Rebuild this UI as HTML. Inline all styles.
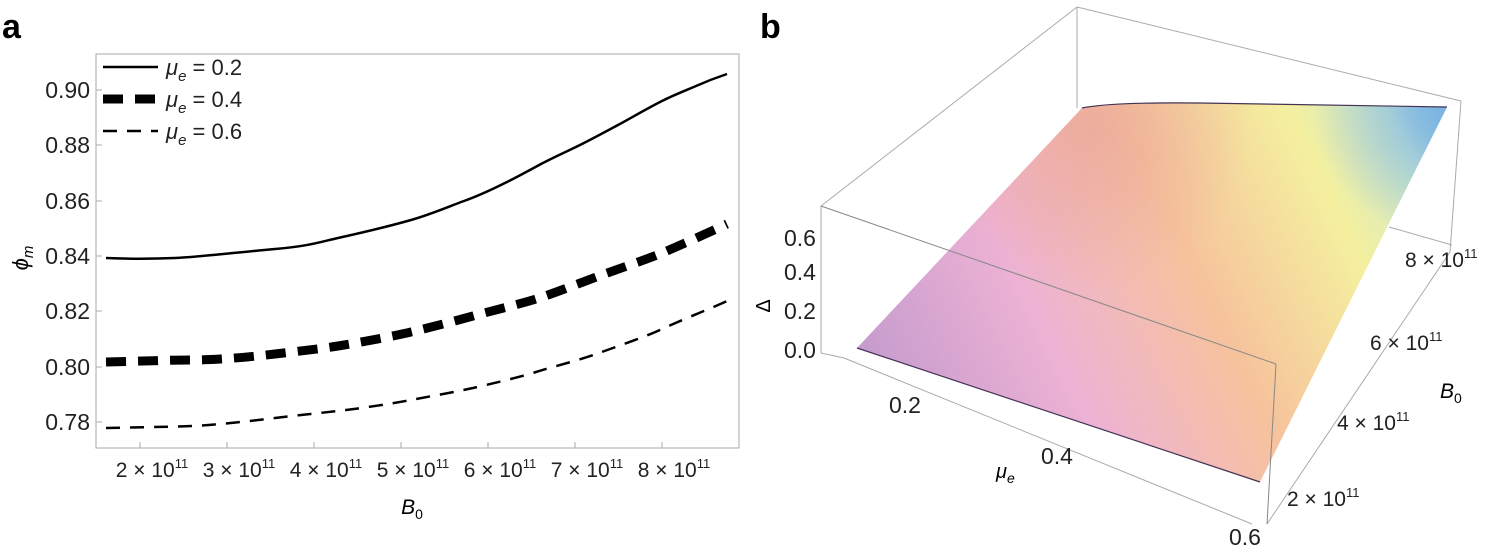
<!DOCTYPE html>
<html><head><meta charset="utf-8"><style>
body{margin:0;background:#fff}
svg{display:block;font-family:"Liberation Sans",sans-serif}
</style></head><body>
<svg width="1505" height="549" viewBox="0 0 1505 549" xmlns="http://www.w3.org/2000/svg">
<defs>
<linearGradient id="g1" x1="857" y1="400" x2="1447" y2="107" gradientUnits="userSpaceOnUse">
<stop offset="0" stop-color="#bf98cc"/>
<stop offset="0.3" stop-color="#edb2d4"/>
<stop offset="0.55" stop-color="#f6c39c"/>
<stop offset="0.78" stop-color="#f4f09e"/>
<stop offset="0.92" stop-color="#cfe8cc"/>
<stop offset="1" stop-color="#7fb6e2"/>
</linearGradient>
<radialGradient id="g2" cx="1445" cy="110" r="130" gradientUnits="userSpaceOnUse">
<stop offset="0" stop-color="#7ab4e4" stop-opacity="0.9"/>
<stop offset="1" stop-color="#7ab4e4" stop-opacity="0"/>
</radialGradient>
<radialGradient id="g3" cx="1090" cy="130" r="160" gradientUnits="userSpaceOnUse">
<stop offset="0" stop-color="#e8a098" stop-opacity="0.6"/>
<stop offset="1" stop-color="#e8a098" stop-opacity="0"/>
</radialGradient>
</defs>
<text x="2" y="38" font-size="34" font-weight="bold">a</text>
<text x="760" y="38" font-size="34" font-weight="bold">b</text>
<!-- Left plot -->
<rect x="96" y="54" width="643" height="394" fill="none" stroke="#aaa" stroke-width="1"/>
<g stroke="#aaa" stroke-width="1">
<line x1="96" y1="90" x2="102" y2="90"/><line x1="96" y1="145" x2="102" y2="145"/><line x1="96" y1="201" x2="102" y2="201"/><line x1="96" y1="256" x2="102" y2="256"/><line x1="96" y1="311" x2="102" y2="311"/><line x1="96" y1="367" x2="102" y2="367"/><line x1="96" y1="422" x2="102" y2="422"/>
<line x1="140" y1="448" x2="140" y2="442"/><line x1="227" y1="448" x2="227" y2="442"/><line x1="314" y1="448" x2="314" y2="442"/><line x1="401" y1="448" x2="401" y2="442"/><line x1="488" y1="448" x2="488" y2="442"/><line x1="575" y1="448" x2="575" y2="442"/><line x1="662" y1="448" x2="662" y2="442"/>
</g>
<g font-size="23" text-anchor="end" fill="#222">
<text x="90" y="98">0.90</text><text x="90" y="153">0.88</text><text x="90" y="209">0.86</text><text x="90" y="264">0.84</text><text x="90" y="319">0.82</text><text x="90" y="375">0.80</text><text x="90" y="430">0.78</text>
</g>
<g font-size="21" text-anchor="middle" fill="#222">
<text x="152" y="477">2 × 10<tspan font-size="13" dy="-9">11</tspan></text>
<text x="239" y="477">3 × 10<tspan font-size="13" dy="-9">11</tspan></text>
<text x="326" y="477">4 × 10<tspan font-size="13" dy="-9">11</tspan></text>
<text x="413" y="477">5 × 10<tspan font-size="13" dy="-9">11</tspan></text>
<text x="500" y="477">6 × 10<tspan font-size="13" dy="-9">11</tspan></text>
<text x="587" y="477">7 × 10<tspan font-size="13" dy="-9">11</tspan></text>
<text x="674" y="477">8 × 10<tspan font-size="13" dy="-9">11</tspan></text>
</g>
<text x="412" y="514" font-size="21" font-style="italic" text-anchor="middle">B<tspan font-size="14" dy="5" font-style="normal">0</tspan></text>
<text transform="translate(28,258) rotate(-90)" font-size="22" font-style="italic" text-anchor="middle">ϕ<tspan font-size="15" dy="5">m</tspan></text>
<g fill="none" stroke="#000" stroke-linecap="butt" stroke-linejoin="round">
<path d="M106,258 C130,259 150,259 175,258 S240,252 275,249 S320,242 338,238 S390,226 411,220 S450,206 464,201 S495,188 507,182 S530,170 541,164 S570,150 580,145 S605,132 618,125 S648,108 662,101 S687,90 696,86 S718,77 727,74" stroke-width="2.5"/>
<path d="M106,362 C150,361 170,360 193,360 S250,357 275,354 S320,349 338,346 S390,337 411,332 S455,321 473,316 S520,304 536,299 S580,283 599,276 S645,260 662,253 S712,231 727,224" stroke-width="9" stroke-dasharray="20 12"/>
<path d="M106,428 C150,427 170,427 193,426 S250,421 275,418 S320,413 338,411 S390,404 411,400 S455,392 473,388 S520,377 536,372 S580,360 599,353 S645,337 662,329 S712,308 727,301" stroke-width="2.5" stroke-dasharray="14 10"/>
<line x1="103" y1="67" x2="158" y2="67" stroke-width="2.5"/>
<line x1="103" y1="99" x2="158" y2="99" stroke-width="9" stroke-dasharray="20 12"/>
<line x1="103" y1="131" x2="158" y2="131" stroke-width="2.5" stroke-dasharray="14 10"/>
</g>
<g font-size="22" fill="#222">
<text x="166" y="75"><tspan font-style="italic">μ</tspan><tspan font-size="15" dy="6" font-style="italic">e</tspan><tspan dy="-6"> = 0.2</tspan></text>
<text x="166" y="107"><tspan font-style="italic">μ</tspan><tspan font-size="15" dy="6" font-style="italic">e</tspan><tspan dy="-6"> = 0.4</tspan></text>
<text x="166" y="139"><tspan font-style="italic">μ</tspan><tspan font-size="15" dy="6" font-style="italic">e</tspan><tspan dy="-6"> = 0.6</tspan></text>
</g>
<!-- Right plot -->
<g stroke="#aaa" stroke-width="1" fill="none">
<line x1="821" y1="206" x2="1077" y2="7"/>
<line x1="1077" y1="7" x2="1077" y2="108"/>
<line x1="1077" y1="7" x2="1461" y2="101"/>
<line x1="1461" y1="101" x2="1450" y2="252"/>
<line x1="1389" y1="227" x2="1452" y2="245"/>
<line x1="821" y1="206" x2="821" y2="353"/>
<line x1="821" y1="353" x2="844" y2="358"/>
<line x1="844" y1="358" x2="1252" y2="524"/>
<line x1="1267" y1="524" x2="1450" y2="252"/>
</g>
<path d="M857,348 L1082,108 Q1110,102 1200,103 L1447,107 L1260,482 Z" fill="url(#g1)"/>
<path d="M857,348 L1082,108 Q1110,102 1200,103 L1447,107 L1260,482 Z" fill="url(#g3)"/>
<path d="M857,348 L1082,108 Q1110,102 1200,103 L1447,107 L1260,482 Z" fill="url(#g2)"/>
<path d="M857,348 L1260,482 M1082,108 Q1110,102 1200,103 L1447,107" stroke="#443355" stroke-width="1.2" fill="none"/>
<g stroke="#888" stroke-width="1" fill="none">
<line x1="821" y1="206" x2="1276" y2="364"/>
<line x1="1276" y1="364" x2="1267" y2="524"/>
</g>
<g font-size="23" fill="#222" text-anchor="middle">
<text x="800" y="246">0.6</text><text x="800" y="280">0.4</text><text x="800" y="319">0.2</text><text x="800" y="358">0.0</text>
<text x="905" y="413">0.2</text><text x="1057" y="464">0.4</text><text x="1245" y="545">0.6</text>
</g>
<text transform="translate(770,306) rotate(-90)" font-size="20" text-anchor="middle">Δ</text>
<text x="996" y="478" font-size="20" font-style="italic">μ<tspan font-size="14" dy="5">e</tspan></text>
<text x="1440" y="398" font-size="21" font-style="italic">B<tspan font-size="14" dy="5" font-style="normal">0</tspan></text>
<g font-size="21" fill="#222">
<text x="1287" y="506">2 × 10<tspan font-size="13" dy="-9">11</tspan></text>
<text x="1337" y="430">4 × 10<tspan font-size="13" dy="-9">11</tspan></text>
<text x="1370" y="350">6 × 10<tspan font-size="13" dy="-9">11</tspan></text>
<text x="1405" y="267">8 × 10<tspan font-size="13" dy="-9">11</tspan></text>
</g>
</svg>
</body></html>
